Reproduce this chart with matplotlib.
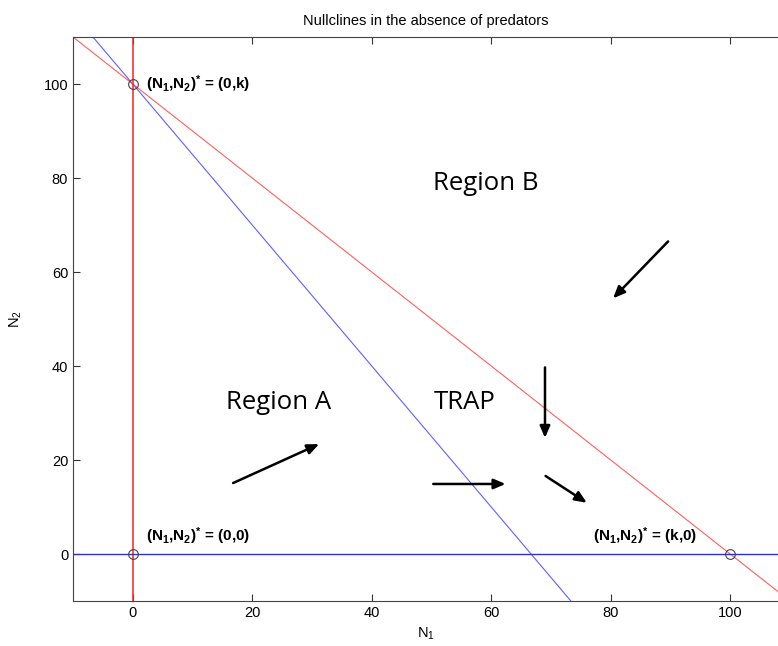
import numpy as np
import matplotlib.pyplot as plt

plt.rcParams["mathtext.fontset"] = "custom"
plt.rcParams["mathtext.rm"] = "Liberation Sans"
plt.rcParams["mathtext.it"] = "Liberation Sans"
plt.rcParams["mathtext.bf"] = "Liberation Sans:bold"

# nullclines, K = 100
k = 100
n1_line = np.array([-10, 110])
n2_red = k - n1_line            # N1 + N2 = k
n2_blue = k - 1.5 * n1_line     # steeper nullcline

# equilibrium points
eq_x = [0, 0, 100]
eq_y = [100, 0, 0]
eq_labels = [r"$\mathbf{(N_1{,}N_2)^{*}}$ = (0,k)",
             r"$\mathbf{(N_1{,}N_2)^{*}}$ = (0,0)",
             r"$\mathbf{(N_1{,}N_2)^{*}}$ = (k,0)"]
eq_text_x = [2.2, 2.2, 77]
eq_text_y = [100, 1.5, 1.5]

# direction arrows (start -> end)
arr_x0 = [16.8, 50.3, 69.0, 69.1, 89.6]
arr_y0 = [15.1, 14.9, 39.7, 16.6, 66.5]
arr_x1 = [31.2, 62.4, 69.0, 76.0, 80.4]
arr_y1 = [23.4, 14.9, 24.7, 10.9, 54.4]

regions = ["Region A", "TRAP", "Region B"]
reg_x = [15.6, 50.3, 50.2]
reg_y = [32.2, 32.2, 78.9]

fig = plt.figure(figsize=(7.78, 6.46), dpi=100)
ax = fig.add_axes([73 / 778, 45 / 646, 1 - 73 / 778, 564 / 646])

ax.plot(n1_line, n2_red, color="#ff6060", lw=0.8)
ax.plot(n1_line, n2_blue, color="#6060ff", lw=0.8)
ax.axvline(0, color="#ff2020", lw=1.1)
ax.axhline(0, color="#3030d0", lw=1.0)
ax.plot(eq_x, eq_y, "o", mfc="none", mec="#444444", ms=7, mew=0.8)

for x, y, s in zip(eq_text_x, eq_text_y, eq_labels):
    ax.text(x, y, s, fontsize=11, fontweight="bold", family="Liberation Sans",
            ha="left", va="center" if y > 50 else "bottom")

for x0, y0, x1, y1 in zip(arr_x0, arr_y0, arr_x1, arr_y1):
    ax.annotate("", xy=(x1, y1), xytext=(x0, y0),
                arrowprops=dict(arrowstyle="-|>,head_length=0.7,head_width=0.3",
                                color="black", lw=1.8, shrinkA=0, shrinkB=0))

for s, x, y in zip(regions, reg_x, reg_y):
    ax.text(x, y, s, fontsize=18.5, ha="left", va="center", family="Open Sans")

ax.set_xlim(-10, 108)
ax.set_ylim(-10, 110)
ax.set_xticks(range(0, 101, 20))
ax.set_yticks(range(0, 101, 20))
ax.tick_params(direction="in", top=True, right=False, length=5,
               labelsize=10.5, color="#333333")
for lab in ax.get_xticklabels() + ax.get_yticklabels():
    lab.set_family("Liberation Sans")
ax.spines["right"].set_visible(False)
for sp in ["left", "top", "bottom"]:
    ax.spines[sp].set_color("#444444")

ax.set_xlabel(r"N$_1$", fontsize=10.5, family="Liberation Sans")
ax.set_ylabel(r"N$_2$", fontsize=10.5, family="Liberation Sans", labelpad=14)
ax.set_title("Nullclines in the absence of predators", fontsize=10.5,
             family="Liberation Sans", pad=9)

fig.savefig("out.png", dpi=100)
